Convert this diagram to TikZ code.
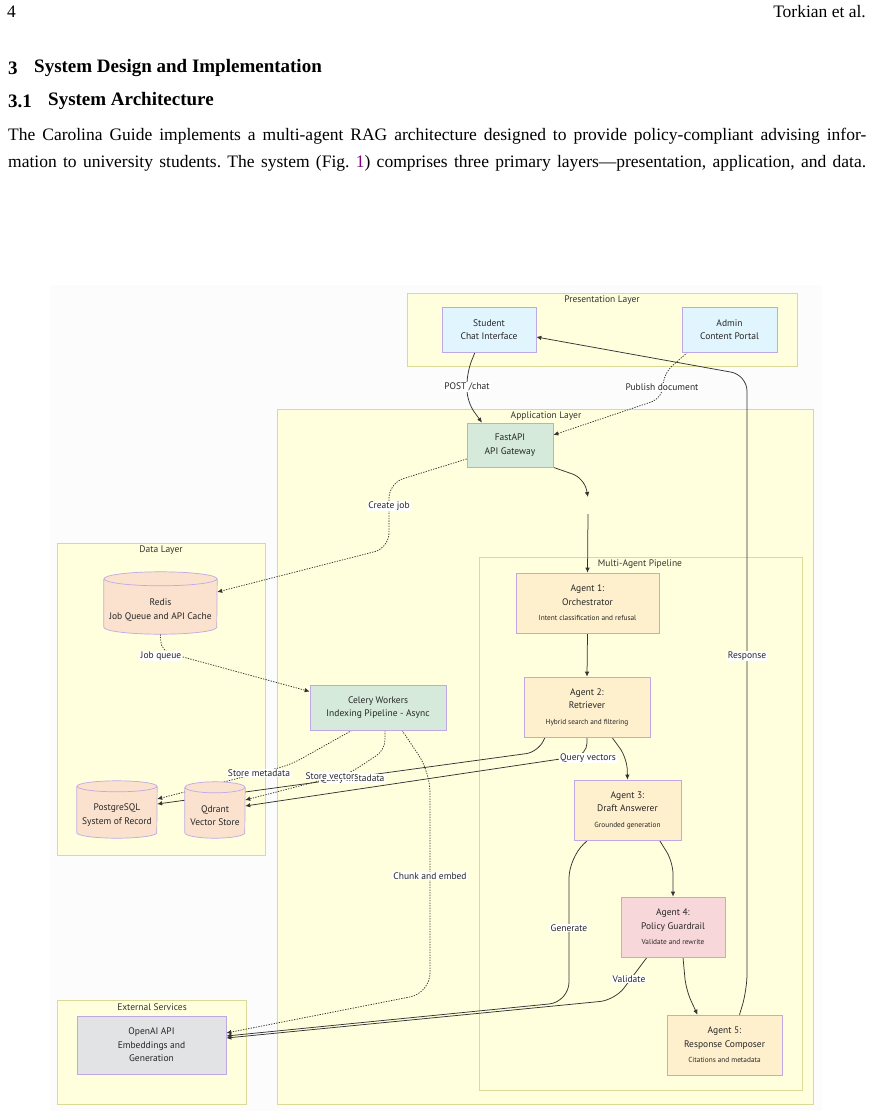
\documentclass[tikz,border=0pt]{standalone}
\usepackage{fontspec}
\setmainfont{Liberation Serif}
\newfontfamily\diagfont{PT Sans}
\usetikzlibrary{arrows.meta,calc}
\frenchspacing
\definecolor{clfill}{RGB}{255,255,222}
\definecolor{clline}{RGB}{218,218,150}
\definecolor{nborder}{RGB}{192,168,228}
\definecolor{cblue}{RGB}{225,245,254}
\definecolor{cgreen}{RGB}{213,234,218}
\definecolor{cpeach}{RGB}{255,240,205}
\definecolor{cpink}{RGB}{248,215,218}
\definecolor{cdb}{RGB}{251,226,206}
\definecolor{cgray}{RGB}{226,227,229}
\definecolor{eline}{RGB}{51,51,51}
\definecolor{figlink}{RGB}{128,0,128}
\definecolor{dbg}{RGB}{252,252,252}
\pgfdeclarelayer{bg}\pgfdeclarelayer{edges}\pgfdeclarelayer{shapes}
\pgfsetlayers{bg,edges,shapes,main}
\newcommand\descfont{\fontsize{7.3}{9}\selectfont}
\newcommand\dbcyl[3]{%
\begin{pgfonlayer}{shapes}
\fill[cdb] ($(#1.north west)+(0,-#3)$) rectangle ($(#1.south east)+(0,-#3)$);
\fill[cdb] ($(#1.south)+(0,-#3)$) ellipse[x radius=#2pt, y radius=#3pt];
\draw[dbline] ($(#1.north west)+(0,-#3)$) -- ($(#1.south west)+(0,-#3)$) arc[start angle=180,end angle=360,x radius=#2pt,y radius=#3pt] -- ($(#1.north east)+(0,-#3)$);
\draw[dbline,fill=cdb] ($(#1.north)+(0,-#3)$) ellipse[x radius=#2pt,y radius=#3pt];
\end{pgfonlayer}}
\begin{document}
\begin{tikzpicture}[x=1pt,y=-1pt,
  cluster/.style={draw=clline, fill=clfill, line width=0.7pt, inner sep=0pt},
  ctitle/.style={font=\diagfont\fontsize{9.5}{11}\selectfont, inner sep=0pt, text=black!80},
  nbox/.style={draw=nborder, line width=0.7pt, align=center, inner sep=0pt, font=\diagfont\fontsize{9.5}{13.5}\selectfont, text=black!85},
  dbnode/.style={align=center, inner sep=0pt, font=\diagfont\fontsize{9.5}{13.5}\selectfont, text=black!85},
  dbline/.style={draw=nborder, line width=0.7pt},
  flow/.style={draw=eline, line width=0.75pt, rounded corners=12pt, -{Latex[length=5pt,width=4.5pt]}},
  dflow/.style={flow, dash pattern=on 1.3pt off 1.3pt},
  elabel/.style={fill=white, inner sep=1pt, font=\diagfont\fontsize{9.5}{11}\selectfont, text=black!85},
  ptext/.style={inner sep=0pt, anchor=west}
]
\useasboundingbox (0,0) rectangle (873,1111);
% page text
\node[ptext, font=\fontsize{17.5}{20}\selectfont] (pgnum) at (7,12) {4};
\node[inner sep=0pt, anchor=east, font=\fontsize{17.5}{20}\selectfont] (runhead) at (866,12) {Torkian et al.};
\node[ptext, font=\bfseries\fontsize{19}{22}\selectfont] (secnum) at (8,68) {3};
\node[ptext, font=\bfseries\fontsize{19}{22}\selectfont] (sectitle) at (34,68) {System Design and Implementation};
\node[ptext, font=\bfseries\fontsize{19}{22}\selectfont] (subnum) at (8,101) {3.1};
\node[ptext, font=\bfseries\fontsize{19}{22}\selectfont] (subtitle) at (48,101) {System Architecture};
\node[ptext, font=\fontsize{17.5}{20}\selectfont] (para1) at (8,136) {\makebox[858pt][s]{The Carolina Guide implements a multi-agent RAG architecture designed to provide policy-compliant advising infor-}};
\node[ptext, font=\fontsize{17.5}{20}\selectfont] (para2) at (8,163) {\makebox[858pt][s]{mation to university students. The system (Fig.~{\color{figlink}1}) comprises three primary layers\textemdash presentation, application, and data.}};

% background and clusters
\begin{pgfonlayer}{bg}
\fill[dbg] (50,285) rectangle (822,1111);
\node[cluster, minimum width=390pt, minimum height=73pt] (pres) at (602,329.5) {};
\node[cluster, minimum width=536pt, minimum height=695pt] (app) at (545,756.5) {};
\node[cluster, minimum width=323pt, minimum height=533pt] (pipe) at (640.5,823.5) {};
\node[cluster, minimum width=208pt, minimum height=312pt] (data) at (161,699) {};
\node[cluster, minimum width=189pt, minimum height=104pt] (ext) at (151.5,1052) {};
\end{pgfonlayer}
\node[ctitle] (prest) at (602,300) {Presentation Layer};
\node[ctitle] (appt) at (546,416) {Application Layer};
\node[ctitle] (pipet) at (640,564) {Multi-Agent Pipeline};
\node[ctitle] (datat) at (161,550) {Data Layer};
\node[ctitle] (extt) at (152,1007) {External Services};

% nodes
\node[nbox, fill=cblue, minimum width=94pt, minimum height=45pt] (student) at (489,329.5) {Student\\Chat Interface};
\node[nbox, fill=cblue, minimum width=95pt, minimum height=45pt] (admin) at (729.5,329.5) {Admin\\Content Portal};
\node[nbox, fill=cgreen, minimum width=86pt, minimum height=44pt] (fastapi) at (510,445) {FastAPI\\API Gateway};
\node[nbox, fill=cpeach, minimum width=143pt, minimum height=60pt] (agent1) at (587.5,603) {Agent 1:\\Orchestrator\\[2pt]{\descfont Intent classification and refusal}};
\node[nbox, fill=cpeach, minimum width=126pt, minimum height=60pt] (agent2) at (587,707) {Agent 2:\\Retriever\\[2pt]{\descfont Hybrid search and filtering}};
\node[nbox, fill=cpeach, minimum width=107pt, minimum height=60pt] (agent3) at (627.5,810) {Agent 3:\\Draft Answerer\\[2pt]{\descfont Grounded generation}};
\node[nbox, fill=cpink, minimum width=104pt, minimum height=60pt] (agent4) at (673,927) {Agent 4:\\Policy Guardrail\\[2pt]{\descfont Validate and rewrite}};
\node[nbox, fill=cpeach, minimum width=115pt, minimum height=60pt] (agent5) at (724.5,1045) {Agent 5:\\Response Composer\\[2pt]{\descfont Citations and metadata}};
\node[nbox, fill=cgreen, minimum width=136pt, minimum height=45pt] (celery) at (378,707.5) {Celery Workers\\Indexing Pipeline - Async};
\node[nbox, fill=cgray, minimum width=149pt, minimum height=58pt] (openai) at (151.5,1045) {OpenAI API\\Embeddings and\\Generation};
\node[dbnode, minimum width=113pt, minimum height=48pt] (redis) at (160.5,610) {Redis\\Job Queue and API Cache};
\node[dbnode, minimum width=80pt, minimum height=46pt] (pg) at (117,815) {PostgreSQL\\System of Record};
\node[dbnode, minimum width=60pt, minimum height=45pt] (qdrant) at (215,815.5) {Qdrant\\Vector Store};
\dbcyl{redis}{56.5}{7}
\dbcyl{pg}{40}{5.5}
\dbcyl{qdrant}{30}{5.5}

% edges
\begin{pgfonlayer}{edges}
\coordinate (gapin) at (588,497);
\coordinate (gapout) at (588,514);
\draw[flow] ([xshift=-14pt]student.south) -- (467,372) -- (467,402) -- ([xshift=-28pt]fastapi.north);
\draw[dflow] ([xshift=-42pt]admin.south) -- (663,374) -- (663,398) -- ([yshift=10pt]fastapi.east);
\draw[flow] (fastapi.south east) -- (584,478) -- (gapin);
\draw[flow] (gapout) -- (agent1.north);
\draw[flow] (agent1.south) -- (agent2.north);
\draw[flow] ([xshift=25pt]agent2.south) -- (627,758) -- (agent3.north);
\draw[flow] ([xshift=32pt]agent3.south) -- (673,862) -- (agent4.north);
\draw[flow] ([xshift=10pt]agent4.south) -- (686,990) -- ([xshift=-27pt]agent5.north);
\draw[flow, rounded corners=16pt] ([xshift=15pt]agent5.north) -- (747,990) -- (747,375) -- ([yshift=-7.5pt]student.east);
\draw[dflow, rounded corners=15pt] ([yshift=-14pt]fastapi.west) -- (389,483) -- (389,548) -- ([yshift=18pt]redis.east);
\draw[dflow, rounded corners=10pt] (redis.south) -- (161,651) -- ([yshift=16pt]celery.west);
\draw[dflow] ([xshift=-26pt]celery.south) -- (290,765) -- ([yshift=16pt]pg.east);
\draw[dflow, rounded corners=10pt] ([xshift=7pt]celery.south) -- (385,750) -- (350,773) -- ([yshift=15.5pt]qdrant.east);
\draw[dflow, rounded corners=20pt] ([xshift=24pt]celery.south) -- (430,772) -- (430,993) -- ([yshift=12pt]openai.east);
\draw[flow] ([xshift=-42pt]agent2.south) -- (538,752) -- ([yshift=11pt]pg.east);
\draw[flow] (agent2.south) -- (587,755) -- ([yshift=9.5pt]qdrant.east);
\draw[flow, rounded corners=20pt] ([xshift=-40pt]agent3.south) -- (569,858) -- (569,1002) -- ([yshift=9pt]openai.east);
\draw[flow, rounded corners=15pt] ([xshift=-26pt]agent4.south) -- (615,1000) -- ([yshift=7pt]openai.east);
% labels
\node[elabel] (lpost) at (467,387) {POST /chat};
\node[elabel] (lpub) at (662,387) {Publish document};
\node[elabel] (lresp) at (747,656) {Response};
\node[elabel] (lcreate) at (389,506) {Create job};
\node[elabel] (ljob) at (161,656) {Job queue};
\node[elabel] (lsmeta) at (259,773) {Store metadata};
\node[elabel] (lqmeta) at (352,779) {Query metadata};
\node[elabel] (lsvec) at (332,776) {Store vectors};
\node[elabel] (lqvec) at (588,758) {Query vectors};
\node[elabel] (lchunk) at (430,876) {Chunk and embed};
\node[elabel] (lgen) at (569,928) {Generate};
\node[elabel] (lval) at (629,979) {Validate};
\end{pgfonlayer}
\end{tikzpicture}
\end{document}
